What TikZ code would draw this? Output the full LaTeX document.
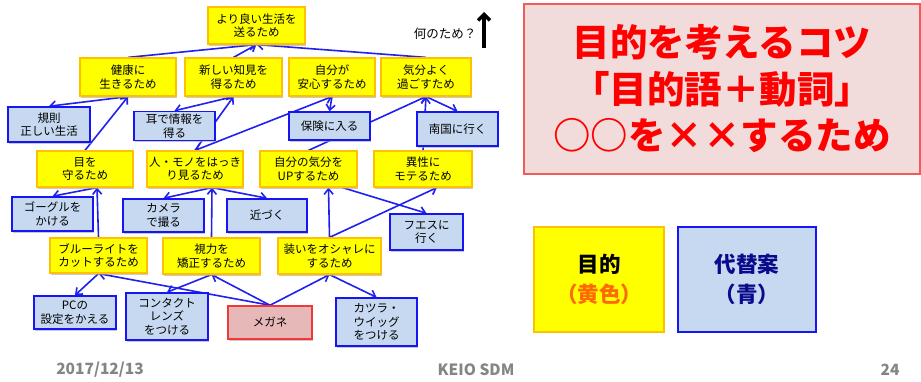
\documentclass[tikz,border=0pt]{standalone}
\usepackage{fontspec}
\setmainfont{Noto Sans CJK JP}
\usepackage{tikz}
\usetikzlibrary{
  arrows.meta,
  shadows,
  backgrounds}

\definecolor{goalfill}{HTML}{FFFF00}
\definecolor{goalline}{HTML}{FFC000}
\definecolor{altfill}{HTML}{C6D9F1}
\definecolor{altline}{HTML}{1515F5}
\definecolor{megafill}{HTML}{E6B9B8}
\definecolor{megaline}{HTML}{F03838}
\definecolor{tipfill}{HTML}{F2DCDB}
\definecolor{tipline}{HTML}{F25A5A}
\definecolor{linkblue}{HTML}{2020F0}
\definecolor{footgray}{HTML}{858585}
\definecolor{keyorange}{HTML}{FF6A00}
\definecolor{keynavy}{HTML}{0A0A8C}

\begin{document}
\begin{tikzpicture}[x=1pt,y=-1pt,
  >={Straight Barb[length=5.5pt,width=9pt]},
  goal/.style={draw=goalline,fill=goalfill,line width=1.2pt,align=center,
    inner sep=0pt,font=\fontsize{11.5}{13.6}\selectfont,
    drop shadow={shadow xshift=1.2pt,shadow yshift=-1.8pt,fill=black!35,opacity=.6}},
  alt/.style={goal,draw=altline,fill=altfill,line width=1.5pt},
  link/.style={draw=linkblue,line width=1.6pt,->},
  keybox/.style={align=center,inner sep=0pt,minimum height=105pt,
    font=\bfseries\fontsize{21.5}{30}\selectfont},
  foot/.style={text=footgray,font=\bfseries\fontsize{15.5}{18}\selectfont}]

\useasboundingbox (0,0) rectangle (921,382);
\begin{scope}[on background layer]
\fill[white] (0,0) rectangle (921,382);
\end{scope}

% purposes and alternatives
\node[goal,minimum width=97pt,minimum height=37pt] (better) at (256.5,25.5) {より良い生活を\\送るため};

\node[goal,minimum width=96pt,minimum height=38pt] (health) at (128,77) {健康に\\生きるため};
\node[goal,minimum width=97pt,minimum height=38pt] (knowledge) at (233.5,77) {新しい知見を\\得るため};
\node[goal,minimum width=86pt,minimum height=38pt] (relief) at (332,77) {自分が\\安心するため};
\node[goal,minimum width=90pt,minimum height=38pt] (mood) at (426,77) {気分よく\\過ごすため};

\node[alt,minimum width=82pt,minimum height=35pt] (rules) at (49,124.5) {規則\\正しい生活};
\node[alt,minimum width=81pt,minimum height=29pt] (ears) at (174.5,126) {耳で情報を\\得る};
\node[alt,minimum width=81pt,minimum height=28pt] (insure) at (329.5,126) {保険に入る};
\node[alt,minimum width=81pt,minimum height=34pt] (tropics) at (457.5,129) {南国に行く};

\node[goal,minimum width=96pt,minimum height=36pt] (eyes) at (85,169) {目を\\守るため};
\node[goal,minimum width=96pt,minimum height=36pt] (see) at (195,169) {人・モノをはっき\\り見るため};
\node[goal,minimum width=97pt,minimum height=36pt] (uplift) at (308.5,169) {自分の気分を\\UPするため};
\node[goal,minimum width=98pt,minimum height=36pt] (popular) at (423,169) {異性に\\モテるため};

\node[alt,minimum width=81pt,minimum height=34pt] (goggles) at (52.5,214) {ゴーグルを\\かける};
\node[alt,minimum width=81pt,minimum height=33pt] (camera) at (163.5,215.5) {カメラ\\で撮る};
\node[alt,minimum width=80pt,minimum height=33pt] (closer) at (267,215.5) {近づく};
\node[alt,minimum width=73pt,minimum height=36pt] (fes) at (426.5,232) {フエスに\\行く};

\node[goal,minimum width=97pt,minimum height=35pt] (bluelight) at (98.5,255.5) {ブルーライトを\\カットするため};
\node[goal,minimum width=97pt,minimum height=36pt] (vision) at (211.5,256) {視力を\\矯正するため};
\node[goal,minimum width=103pt,minimum height=36pt] (dress) at (329.5,256) {装いをオシャレに\\するため};

\node[alt,minimum width=82pt,minimum height=33pt] (pc) at (75,312.5) {PCの\\設定をかえる};
\node[alt,minimum width=82pt,minimum height=47pt] (contact) at (167,316.5) {コンタクト\\レンズ\\をつける};
\node[alt,draw=megaline,fill=megafill,minimum width=84pt,minimum height=33pt] (glasses) at (270,322.5) {メガネ};
\node[alt,minimum width=81pt,minimum height=48pt] (wig) at (376.5,322) {カツラ・\\ウイッグ\\をつける};

% connectors
\begin{scope}[on background layer]
\draw[link] (health.north) -- (better.south);
\draw[link] (knowledge.north) -- (better.south);
\draw[link] (mood.north) -- (better.south);
\draw[link] (health.south) -- (rules.north);
\draw[link] (eyes.north) -- (health.south);
\draw[link] (knowledge.south) -- (ears.north);
\draw[link] (see.north) -- (knowledge.south);
\draw[link,<->] (see.north) -- (relief.south);
\draw[link] (relief.south) -- (insure.north);
\draw[link] (uplift.north) -- (mood.south);
\draw[link] (mood.south) -- (tropics.north);
\draw[link] (popular.north) -- (mood.south);
\draw[link] ([xshift=12pt]eyes.south) -- (goggles.north);
\draw[link] (bluelight.north) -- ([xshift=12pt]eyes.south);
\draw[link] ([xshift=17pt]see.south) -- (camera.north);
\draw[link] ([xshift=17pt]see.south) -- (closer.north);
\draw[link] (vision.north) -- ([xshift=17pt]see.south);
\draw[link] (dress.north) -- ([xshift=20pt]uplift.south);
\draw[link] (dress.north) -- ([xshift=14pt]popular.south);
\draw[link] ([xshift=34pt]uplift.south) -- (fes.north);
\draw[link] (bluelight.south) -- (pc.north);
\draw[link] (glasses.north) -- (bluelight.south);
\draw[link] (vision.south) -- (contact.north);
\draw[link] (glasses.north) -- (vision.south);
\draw[link] (glasses.north) -- (dress.south);
\draw[link] (dress.south) -- (wig.north);
\end{scope}

% question arrow
\node[font=\fontsize{12.5}{14}\selectfont] (why) at (445,34) {何のため？};
\coordinate (whytail) at (484,48);
\coordinate (whyhead) at (484,12);
\draw[line width=3.5pt,-{Straight Barb[length=6pt,width=12pt]}] (whytail) -- (whyhead);

% right side
\node[draw=tipline,fill=tipfill,line width=1.2pt,minimum width=396pt,minimum height=170pt,
  text=red,align=center,inner sep=0pt,font=\bfseries\fontsize{37.5}{46.5}\selectfont]
  (tips) at (722,89) {目的を考えるコツ\\「目的語＋動詞」\\○○を××するため};

\node[keybox,draw=goalline,fill=goalfill,line width=1.8pt,minimum width=130pt] (keygoal) at (599,279.5) {目的\\\textcolor{keyorange}{（黄色）}};
\node[keybox,draw=altline,fill=altfill,line width=2.2pt,minimum width=138pt,text=keynavy] (keyalt) at (747,279.5) {代替案\\（青）};

% footer
\node[foot] (date) at (100,369.5) {2017/12/13};
\node[foot] (org) at (476,369.5) {KEIO SDM};
\node[foot] (page) at (890,369.5) {24};

\end{tikzpicture}
\end{document}
